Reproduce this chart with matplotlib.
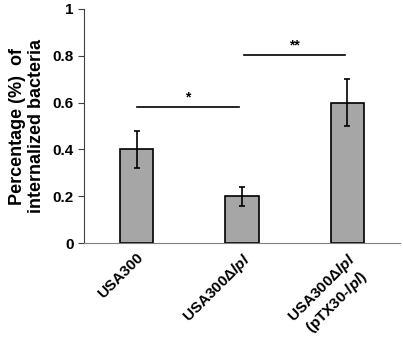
import numpy as np
import matplotlib.pyplot as plt

plt.rcParams['font.family'] = ['Liberation Sans', 'DejaVu Sans']
plt.rcParams['font.weight'] = 'bold'
plt.rcParams['axes.labelweight'] = 'bold'
plt.rcParams['mathtext.fontset'] = 'custom'
plt.rcParams['mathtext.it'] = 'Liberation Sans:italic:bold'
plt.rcParams['mathtext.rm'] = 'Liberation Sans:bold'

strains = ['USA300', 'USA300Δ$\\mathit{lpl}$', 'USA300Δ$\\mathit{lpl}$\n(pTX30-$\\mathit{lpl}$)']
means = [0.40, 0.20, 0.60]
errors = [0.08, 0.04, 0.10]
# significance brackets: (start, end, height, label)
sig = [(0, 0.97, 0.58, '*'), (1.02, 1.98, 0.805, '**')]

fig = plt.figure(figsize=(4.03, 3.42), dpi=100)
ax = fig.add_axes([0.208, 0.289, 0.785, 0.685])

x = np.arange(len(strains))
ax.bar(x, means, width=0.315, color='#a6a6a6', edgecolor='black', linewidth=1.2,
       yerr=errors, error_kw=dict(ecolor='black', elinewidth=1.2, capsize=2.5, capthick=1.2))

for x0, x1, h, lab in sig:
    ax.plot([x0, x1], [h, h], color='black', lw=1.2)
    ax.text((x0 + x1) / 2, h + 0.01, lab, ha='center', va='bottom', fontsize=10)

ax.set_xlim(-0.5, 2.5)
ax.set_ylim(0, 1)
ax.set_yticks([0, 0.2, 0.4, 0.6, 0.8, 1])
ax.set_yticklabels(['0', '0.2', '0.4', '0.6', '0.8', '1'], fontsize=11)
ax.set_xticks(x)
ax.set_xticklabels(strains, rotation=45, ha='right', rotation_mode='anchor',
                   fontsize=11, multialignment='center')
ax.tick_params(axis='x', length=0, pad=5)
ax.tick_params(axis='y', direction='out', length=4, color='#404040')
ax.set_ylabel('Percentage (%)  of\ninternalized bacteria', fontsize=13, labelpad=5,
              linespacing=1.2)

for s in ['top', 'right']:
    ax.spines[s].set_visible(False)
ax.spines['left'].set_color('#404040')
ax.spines['bottom'].set_color('#808080')

fig.savefig('out.png', dpi=100)
